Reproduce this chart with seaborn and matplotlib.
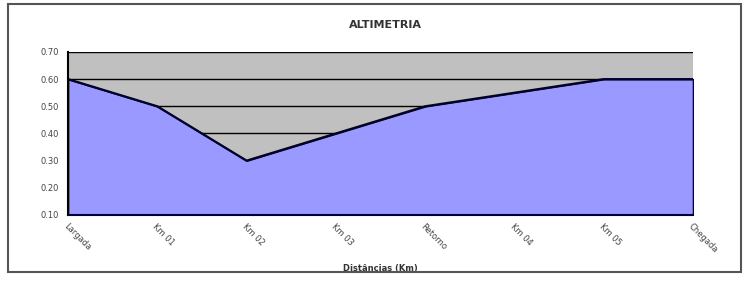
import pandas as pd
import matplotlib.pyplot as plt
import matplotlib.patches as mpatches
import seaborn as sns

# Chart data
pontos = ["Largada", "Km 01", "Km 02", "Km 03", "Retorno", "Km 04", "Km 05", "Chegada"]
altitudes = [0.60, 0.50, 0.30, 0.40, 0.50, 0.55, 0.60, 0.60]
y_ticks = [0.10, 0.20, 0.30, 0.40, 0.50, 0.60, 0.70]


def plot_altimetria():
    df = pd.DataFrame({"pos": range(len(pontos)), "ponto": pontos, "altitude": altitudes})

    sns.set_style("white")
    fig = plt.figure(figsize=(7.49, 2.88), dpi=100)
    ax = fig.add_axes([0.0908, 0.2535, 0.8345, 0.566])

    # Outer frame of the chart
    fig.patches.append(mpatches.Rectangle((0.011, 0.055), 0.978, 0.93, transform=fig.transFigure,
                                          fill=False, edgecolor="#555555", linewidth=1.5))

    ax.set_facecolor("#c0c0c0")
    ax.fill_between(df["pos"], df["altitude"], 0.1, color="#9999ff", edgecolor="#000040",
                    linewidth=1.2, zorder=2)
    sns.lineplot(x="pos", y="altitude", data=df, color="#000033", linewidth=1.6, ax=ax, zorder=3)

    ax.set_xlim(0, len(pontos) - 1)
    ax.set_ylim(y_ticks[0], y_ticks[-1])
    ax.set_yticks(y_ticks)
    ax.set_yticklabels([f"{v:.2f}" for v in y_ticks], fontsize=6, color="#444444")
    ax.set_xticks(df["pos"])
    ax.set_xticklabels(pontos, rotation=-45, ha="left", va="top", fontsize=6,
                       rotation_mode="anchor", color="#444444")
    ax.tick_params(axis="both", length=3, width=1, color="black", direction="out")
    ax.tick_params(axis="x", pad=2)
    ax.grid(axis="y", color="black", linewidth=1, zorder=1)
    ax.set_axisbelow(True)

    for side in ["top", "right"]:
        ax.spines[side].set_visible(False)
    ax.spines["left"].set_color("black")
    ax.spines["left"].set_linewidth(1.5)
    ax.spines["bottom"].set_color("#000040")
    ax.spines["bottom"].set_linewidth(1.5)

    ax.set_xlabel("Distâncias (Km)", fontsize=6, fontweight="bold", color="#333333")
    ax.set_ylabel("")
    ax.xaxis.set_label_coords(0.5, -0.30)
    fig.text(0.515, 0.912, "ALTIMETRIA", ha="center", va="center", fontsize=8,
             fontweight="bold", color="#333333")

    plt.savefig("out.png", dpi=100)


def main():
    plot_altimetria()


if __name__ == "__main__":
    main()
